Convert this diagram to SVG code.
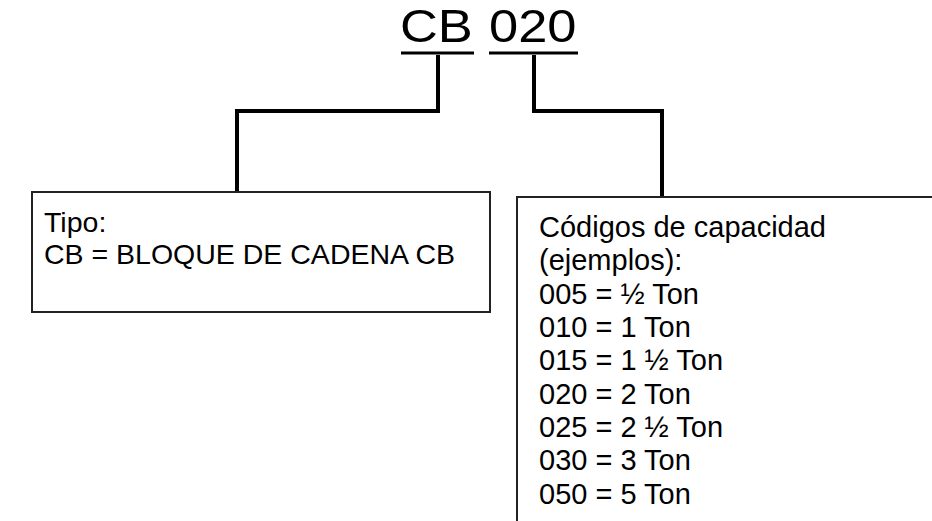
<svg xmlns="http://www.w3.org/2000/svg" width="932" height="521" viewBox="0 0 932 521">
  <style>
    text { font-family: "Liberation Sans", Arial, sans-serif; fill: #000; }
    .title { font-size: 46px; }
    .body { font-size: 28.5px; }
    .cap { font-size: 29px; }
    .box { fill: #fff; stroke: #222; stroke-width: 2; }
    .conn { fill: none; stroke: #000; stroke-width: 4; }
    .under { stroke: #000; stroke-width: 3; }
  </style>
  <rect width="932" height="521" fill="#fff"/>

  <!-- model code, each part underlined -->
  <g id="title">
    <text class="title" transform="translate(400 42) scale(1.14 1)">CB</text>
    <text class="title" transform="translate(489 42) scale(1.14 1)">020</text>
    <line class="under" x1="401" y1="53" x2="474" y2="53"/>
    <line class="under" x1="489" y1="53" x2="578" y2="53"/>
  </g>

  <g id="connectors">
    <path class="conn" d="M438 55 V111 H237 V192"/>
    <path class="conn" d="M534 55 V111 H662 V197"/>
  </g>

  <g id="tipo">
    <rect class="box" x="32" y="192" width="458" height="120"/>
    <text class="body" x="44" y="232">Tipo:</text>
    <text class="body" x="44" y="264">CB = BLOQUE DE CADENA CB</text>
  </g>

  <g id="capacidad">
    <path class="box" d="M517 530 V197 H940"/>
    <text class="cap" x="539" y="237">Códigos de capacidad</text>
    <text class="cap" x="539" y="270">(ejemplos):</text>
    <text class="cap" x="539" y="304">005 = ½ Ton</text>
    <text class="cap" x="539" y="337">010 = 1 Ton</text>
    <text class="cap" x="539" y="370">015 = 1 ½ Ton</text>
    <text class="cap" x="539" y="404">020 = 2 Ton</text>
    <text class="cap" x="539" y="437">025 = 2 ½ Ton</text>
    <text class="cap" x="539" y="470">030 = 3 Ton</text>
    <text class="cap" x="539" y="504">050 = 5 Ton</text>
  </g>
</svg>
